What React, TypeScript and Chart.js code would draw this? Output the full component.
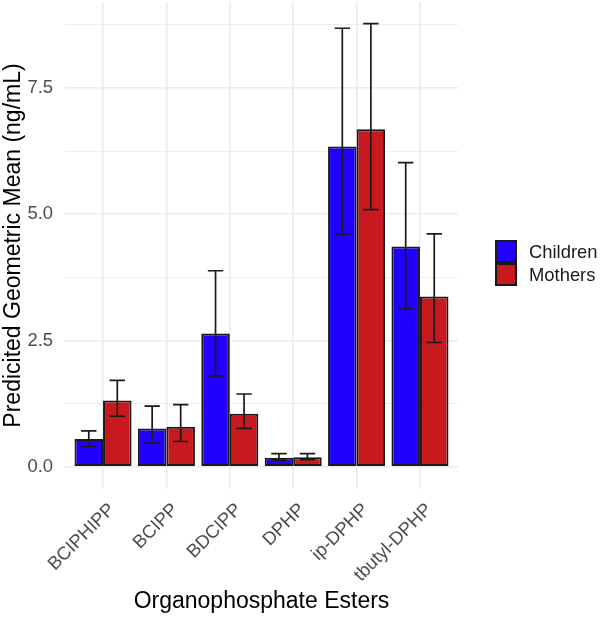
import React, { useEffect, useRef } from "react";
import { Chart, registerables } from "chart.js";
Chart.register(...registerables);

const categories = ["BCIPHIPP", "BCIPP", "BDCIPP", "DPHP", "ip-DPHP", "tbutyl-DPHP"];
const seriesNames = ["Children", "Mothers"];
const childrenMean = [0.55, 0.76, 2.64, 0.18, 6.34, 4.36];
const childrenLower = [0.4, 0.47, 1.8, 0.13, 4.61, 3.13];
const childrenUpper = [0.71, 1.2, 3.88, 0.26, 8.68, 6.02];
const mothersMean = [1.31, 0.79, 1.05, 0.19, 6.68, 3.37];
const mothersLower = [1.0, 0.5, 0.76, 0.14, 5.09, 2.46];
const mothersUpper = [1.71, 1.23, 1.44, 0.26, 8.77, 4.61];
const yTicks = [0, 2.5, 5, 7.5];

const colors = ["#2200FF", "#C8191E"];
const FONT = "'Liberation Sans', Arial, sans-serif";

const errorBars = {
  id: "errorBars",
  afterDatasetsDraw(chart: any) {
    const { ctx } = chart;
    const y = chart.scales.y;
    const lows = [childrenLower, mothersLower];
    const highs = [childrenUpper, mothersUpper];
    ctx.save();
    ctx.strokeStyle = "#1a1a1a";
    ctx.lineWidth = 1.7;
    chart.data.datasets.forEach((_: any, di: number) => {
      const meta = chart.getDatasetMeta(di);
      meta.data.forEach((bar: any, j: number) => {
        const x = bar.x;
        const half = bar.width * 0.27;
        const yl = y.getPixelForValue(lows[di][j]);
        const yh = y.getPixelForValue(highs[di][j]);
        ctx.beginPath();
        ctx.moveTo(x, yl);
        ctx.lineTo(x, yh);
        ctx.moveTo(x - half, yl);
        ctx.lineTo(x + half, yl);
        ctx.moveTo(x - half, yh);
        ctx.lineTo(x + half, yh);
        ctx.stroke();
      });
    });
    ctx.restore();
  },
};

const customLegend = {
  id: "customLegend",
  afterDraw(chart: any) {
    const { ctx, chartArea } = chart;
    const kx = chartArea.right + 37;
    const kw = 22;
    const kh = 23;
    const top = 240;
    ctx.save();
    seriesNames.forEach((name, i) => {
      const ky = top + i * kh;
      ctx.fillStyle = colors[i];
      ctx.fillRect(kx, ky, kw, kh);
      ctx.strokeStyle = "#1a1a1a";
      ctx.lineWidth = 2;
      ctx.strokeRect(kx + 1, ky + 1, kw - 2, kh - 2);
      ctx.fillStyle = "#1a1a1a";
      ctx.font = `18.4px ${FONT}`;
      ctx.textBaseline = "middle";
      ctx.textAlign = "left";
      ctx.fillText(name, kx + kw + 12, ky + kh / 2 + 1);
    });
    ctx.restore();
  },
};

export default function App() {
  const ref = useRef<HTMLCanvasElement | null>(null);
  useEffect(() => {
    document.body.style.margin = "0";
    const minorTicks = yTicks.map((v) => v + 1.25);
    const allY = [...yTicks, ...minorTicks].sort((a, b) => a - b);
    const chart = new Chart(ref.current as HTMLCanvasElement, {
      type: "bar",
      data: {
        datasets: [
          {
            label: seriesNames[0],
            data: childrenMean.map((v, i) => ({ x: i, y: v })),
            backgroundColor: colors[0],
            borderColor: "#1a1a1a",
            borderWidth: 2,
            borderSkipped: false,
          },
          {
            label: seriesNames[1],
            data: mothersMean.map((v, i) => ({ x: i, y: v })),
            backgroundColor: colors[1],
            borderColor: "#1a1a1a",
            borderWidth: 2,
            borderSkipped: false,
          },
        ],
      },
      options: {
        animation: false,
        responsive: true,
        maintainAspectRatio: false,
        layout: { padding: { top: 2, right: 142, left: 0, bottom: 0 } },
        datasets: { bar: { categoryPercentage: 0.9, barPercentage: 1.0 } },
        plugins: { legend: { display: false }, tooltip: { enabled: false } },
        scales: {
          x: {
            type: "linear",
            min: -0.6,
            max: 5.6,
            offset: false,
            afterBuildTicks: (scale: any) => {
              scale.ticks = categories.map((_, i) => ({ value: i }));
            },
            afterFit: (scale: any) => {
              scale.height = 128;
              scale.paddingLeft = 0;
              scale.paddingRight = 0;
            },
            grid: { color: "#EBEBEB", lineWidth: 1.6, drawTicks: false, offset: false },
            border: { display: false },
            ticks: {
              autoSkip: false,
              minRotation: 45,
              maxRotation: 45,
              labelOffset: 9,
              padding: 10,
              color: "#4D4D4D",
              font: { family: FONT, size: 18.4 },
              callback: (v: any) => categories[v] ?? "",
            },
            title: {
              display: true,
              text: "Organophosphate Esters",
              color: "#000",
              font: { family: FONT, size: 23 },
              padding: { top: 0, bottom: 2 },
            },
          },
          y: {
            type: "linear",
            min: -0.44,
            max: 9.2,
            afterBuildTicks: (scale: any) => {
              scale.ticks = allY.map((v) => ({ value: v }));
            },
            afterFit: (scale: any) => {
              scale.width = 65;
              scale.paddingTop = 0;
              scale.paddingBottom = 0;
            },
            grid: {
              color: "#EBEBEB",
              lineWidth: (c: any) => (yTicks.includes(c.tick?.value) ? 1.6 : 0.9),
              drawTicks: false,
            },
            border: { display: false },
            ticks: {
              padding: 12,
              color: "#4D4D4D",
              font: { family: FONT, size: 18.4 },
              callback: (v: any) => (yTicks.includes(v) ? Number(v).toFixed(1) : ""),
            },
            title: {
              display: true,
              text: "Predicited Geometric Mean (ng/mL)",
              color: "#000",
              font: { family: FONT, size: 23 },
              padding: { top: 0, bottom: 0 },
            },
          },
        },
      },
      plugins: [errorBars, customLegend],
    } as any);
    return () => chart.destroy();
  }, []);
  return (
    <div style={{ width: 600, height: 617, position: "relative" }}>
      <canvas ref={ref} />
    </div>
  );
}
